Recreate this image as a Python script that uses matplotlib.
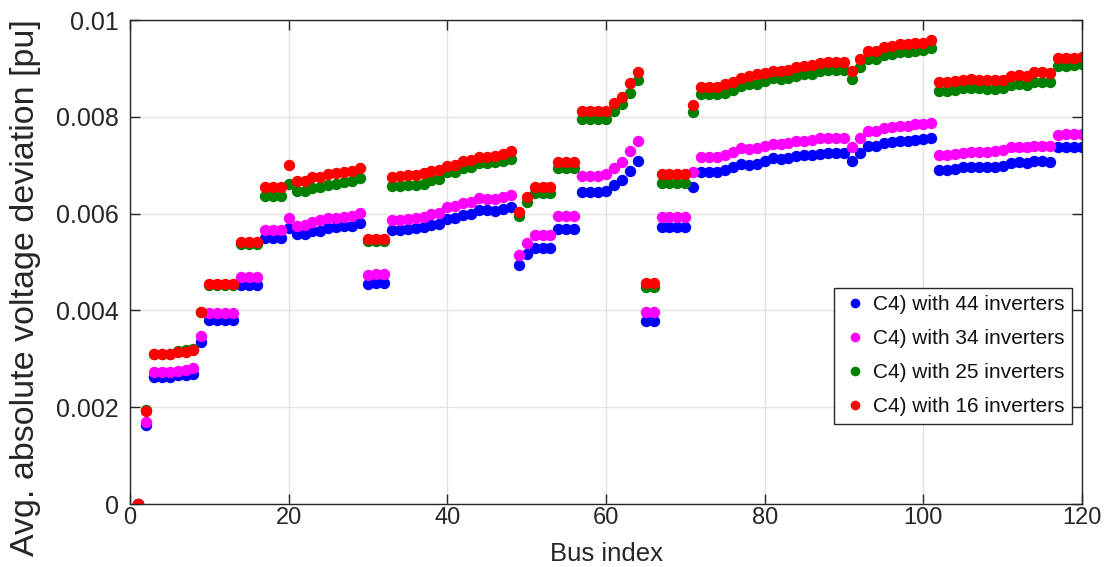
import numpy as np
import matplotlib
matplotlib.use("Agg")
import matplotlib.pyplot as plt

# Bus indices and average absolute voltage deviation (values in 1e-3 pu)
bus_index = list(range(1, 121))

dev_44 = [
    0.00, 1.64, 2.62, 2.62, 2.62, 2.66, 2.67, 2.69, 3.35, 3.81,
    3.81, 3.81, 3.81, 4.52, 4.52, 4.52, 5.49, 5.49, 5.49, 5.70,
    5.57, 5.58, 5.64, 5.65, 5.70, 5.72, 5.74, 5.75, 5.81, 4.54,
    4.56, 4.56, 5.66, 5.66, 5.69, 5.71, 5.72, 5.77, 5.79, 5.89,
    5.91, 5.98, 5.99, 6.08, 6.07, 6.06, 6.10, 6.13, 4.93, 5.17,
    5.29, 5.29, 5.29, 5.68, 5.68, 5.68, 6.45, 6.45, 6.45, 6.47,
    6.59, 6.69, 6.89, 7.08, 3.79, 3.79, 5.72, 5.72, 5.72, 5.72,
    6.54, 6.85, 6.85, 6.85, 6.90, 6.97, 7.02, 7.01, 7.02, 7.09,
    7.15, 7.13, 7.15, 7.20, 7.22, 7.22, 7.24, 7.26, 7.26, 7.26,
    7.08, 7.26, 7.40, 7.40, 7.45, 7.47, 7.49, 7.49, 7.52, 7.54,
    7.56, 6.90, 6.90, 6.92, 6.96, 6.97, 6.97, 6.97, 6.97, 6.99,
    7.04, 7.06, 7.04, 7.08, 7.08, 7.06, 7.37, 7.37, 7.37, 7.38,
]

dev_34 = [
    0.00, 1.69, 2.72, 2.72, 2.72, 2.75, 2.76, 2.80, 3.47, 3.95,
    3.95, 3.95, 3.95, 4.70, 4.70, 4.70, 5.67, 5.67, 5.67, 5.91,
    5.75, 5.77, 5.82, 5.86, 5.91, 5.91, 5.94, 5.96, 6.01, 4.74,
    4.75, 4.75, 5.87, 5.87, 5.89, 5.91, 5.94, 5.99, 6.01, 6.13,
    6.15, 6.22, 6.23, 6.32, 6.30, 6.30, 6.35, 6.39, 5.15, 5.39,
    5.55, 5.55, 5.55, 5.96, 5.96, 5.96, 6.78, 6.78, 6.78, 6.82,
    6.95, 7.06, 7.29, 7.51, 3.96, 3.96, 5.92, 5.92, 5.92, 5.92,
    6.87, 7.17, 7.17, 7.17, 7.22, 7.28, 7.35, 7.33, 7.35, 7.40,
    7.44, 7.44, 7.45, 7.49, 7.51, 7.52, 7.56, 7.57, 7.57, 7.57,
    7.38, 7.56, 7.70, 7.71, 7.77, 7.78, 7.81, 7.81, 7.85, 7.85,
    7.88, 7.22, 7.22, 7.23, 7.26, 7.28, 7.28, 7.28, 7.30, 7.31,
    7.37, 7.38, 7.37, 7.40, 7.40, 7.40, 7.63, 7.64, 7.64, 7.64,
]

dev_25 = [
    0.00, 1.95, 3.10, 3.10, 3.10, 3.16, 3.18, 3.21, 3.97, 4.52,
    4.52, 4.52, 4.52, 5.38, 5.38, 5.38, 6.36, 6.36, 6.36, 6.62,
    6.47, 6.47, 6.53, 6.54, 6.60, 6.62, 6.65, 6.68, 6.73, 5.43,
    5.43, 5.43, 6.58, 6.58, 6.60, 6.60, 6.61, 6.69, 6.72, 6.85,
    6.87, 6.95, 6.97, 7.04, 7.04, 7.06, 7.09, 7.13, 5.96, 6.23,
    6.42, 6.42, 6.42, 6.94, 6.94, 6.94, 7.95, 7.95, 7.95, 7.95,
    8.12, 8.26, 8.50, 8.76, 4.49, 4.49, 6.63, 6.63, 6.63, 6.63,
    8.10, 8.47, 8.47, 8.47, 8.50, 8.56, 8.64, 8.67, 8.67, 8.73,
    8.80, 8.78, 8.80, 8.85, 8.88, 8.88, 8.95, 8.96, 8.96, 8.96,
    8.79, 9.03, 9.19, 9.19, 9.27, 9.29, 9.33, 9.33, 9.36, 9.38,
    9.42, 8.54, 8.54, 8.55, 8.59, 8.60, 8.60, 8.57, 8.57, 8.60,
    8.66, 8.67, 8.66, 8.71, 8.72, 8.71, 9.05, 9.05, 9.07, 9.09,
]

dev_16 = [
    0.00, 1.92, 3.09, 3.09, 3.09, 3.14, 3.15, 3.18, 3.96, 4.55,
    4.55, 4.55, 4.55, 5.41, 5.41, 5.41, 6.56, 6.56, 6.56, 7.00,
    6.68, 6.68, 6.75, 6.75, 6.82, 6.83, 6.85, 6.89, 6.94, 5.47,
    5.47, 5.47, 6.76, 6.77, 6.80, 6.80, 6.84, 6.89, 6.91, 6.99,
    7.01, 7.09, 7.11, 7.18, 7.18, 7.19, 7.24, 7.30, 6.03, 6.35,
    6.54, 6.54, 6.54, 7.06, 7.06, 7.06, 8.11, 8.11, 8.11, 8.11,
    8.29, 8.41, 8.69, 8.93, 4.56, 4.56, 6.82, 6.82, 6.82, 6.82,
    8.25, 8.62, 8.62, 8.62, 8.67, 8.72, 8.81, 8.85, 8.88, 8.91,
    8.95, 8.95, 8.96, 9.02, 9.05, 9.07, 9.12, 9.14, 9.14, 9.14,
    8.94, 9.19, 9.35, 9.36, 9.44, 9.46, 9.51, 9.50, 9.53, 9.53,
    9.58, 8.71, 8.71, 8.73, 8.76, 8.78, 8.76, 8.76, 8.76, 8.76,
    8.85, 8.87, 8.85, 8.92, 8.92, 8.90, 9.22, 9.22, 9.22, 9.24,
]

series_labels = [
    "C4) with 44 inverters",
    "C4) with 34 inverters",
    "C4) with 25 inverters",
    "C4) with 16 inverters",
]
series_colors = ["#0000ff", "#ff00ff", "#008000", "#ff0000"]

x_ticks = [0, 20, 40, 60, 80, 100, 120]
y_ticks = [0, 0.002, 0.004, 0.006, 0.008, 0.01]
y_tick_labels = ["0", "0.002", "0.004", "0.006", "0.008", "0.01"]

plt.rcParams["font.family"] = ["Liberation Sans", "DejaVu Sans"]
text_color = "#262626"

fig = plt.figure(figsize=(11.09, 5.67), dpi=100)
ax = fig.add_axes([0.1172, 0.1111, 0.8585, 0.8536])

x = np.array(bus_index)
for vals, lab, col in zip([dev_44, dev_34, dev_25, dev_16], series_labels, series_colors):
    ax.plot(x, np.array(vals) * 1e-3, linestyle="none", marker="o",
            markersize=8.2, markeredgewidth=0, color=col, label=lab)

ax.set_xlim(0, 120)
ax.set_ylim(0, 0.01)
ax.set_xticks(x_ticks)
ax.set_yticks(y_ticks)
ax.set_yticklabels(y_tick_labels)

ax.grid(True, color="#e3e3e3", linewidth=1.0)
ax.set_axisbelow(True)

for sp in ax.spines.values():
    sp.set_color(text_color)
    sp.set_linewidth(1.0)

ax.tick_params(axis="both", which="both", direction="in", length=7, width=1.0,
               color=text_color, top=True, right=True, labelcolor=text_color)
ax.tick_params(axis="y", labelsize=18, pad=8)
ax.tick_params(axis="x", labelsize=17, pad=2.5)

# x label placed between the tick labels and the lower figure edge
ax.set_xlabel("Bus index", fontsize=18.5, color=text_color)
ax.xaxis.set_label_coords(0.5, (504 - 566) / 484)
ax.xaxis.label.set_va("bottom")

ax.set_ylabel("Avg. absolute voltage deviation [pu]", fontsize=24.5, color=text_color)
ax.yaxis.set_label_coords(-0.093, 0.448)

leg = ax.legend(loc="upper right", bbox_to_anchor=(0.989, 0.446), borderaxespad=0,
                fontsize=15, frameon=True, fancybox=False, markerscale=0.85,
                handlelength=1.3, handletextpad=0.2, labelspacing=0.72,
                borderpad=0.35)
leg.get_frame().set_edgecolor(text_color)
leg.get_frame().set_linewidth(1.0)
leg.get_frame().set_alpha(1.0)
for t in leg.get_texts():
    t.set_color("#111111")

fig.savefig("out.png", dpi=100)
